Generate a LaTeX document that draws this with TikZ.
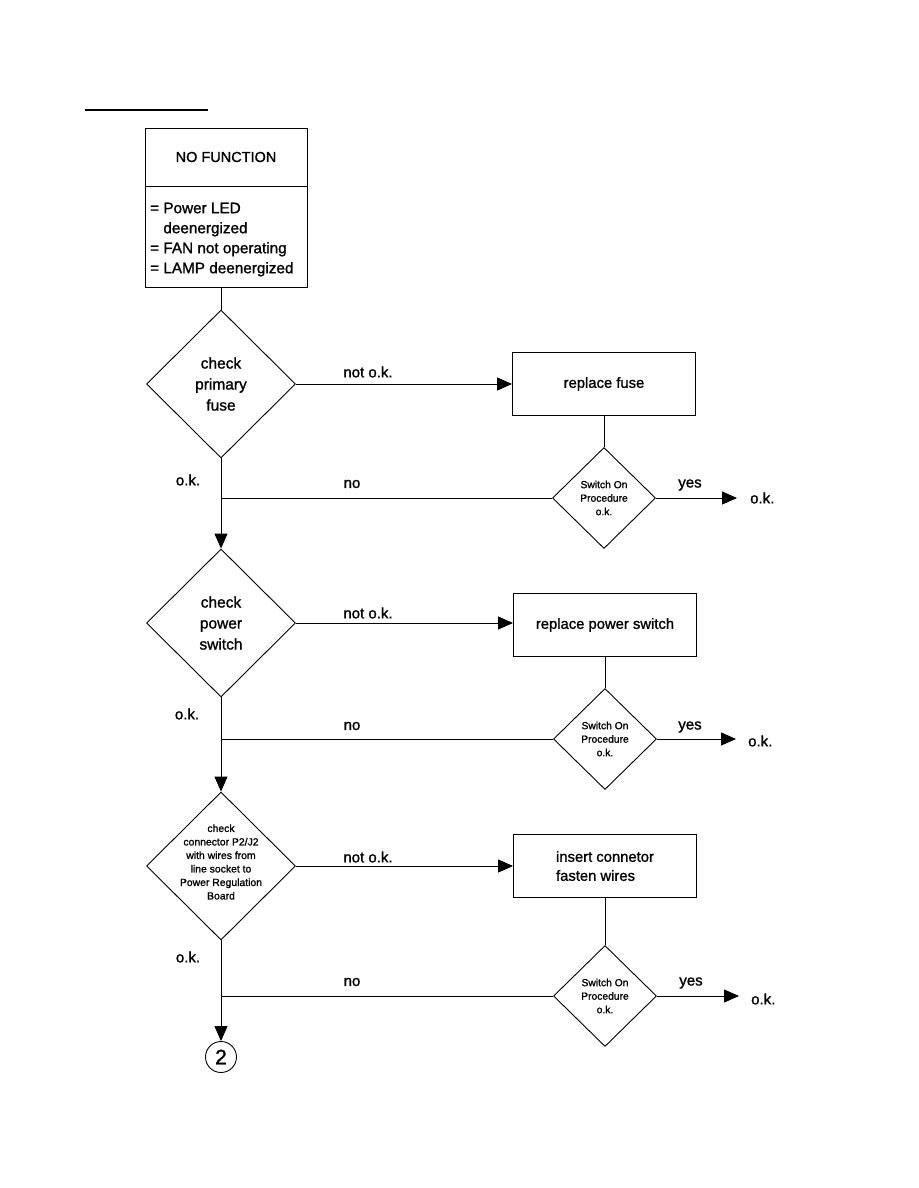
\documentclass[tikz,border=0pt]{standalone}
\usepackage{fontspec}
\setmainfont{Liberation Sans}[FakeBold=1.2]
\usetikzlibrary{shapes.geometric,arrows.meta}
\tikzset{
  base/.style={draw, line width=0.9pt, inner sep=0pt},
  bigdia/.style={base, diamond, minimum width=149pt, minimum height=148pt, align=center, font=\fontsize{15.5}{21}\selectfont},
  smalldia/.style={base, diamond, minimum width=103pt, minimum height=101pt, align=center, font=\fontsize{10.3}{13.5}\selectfont},
  actbox/.style={base, rectangle, minimum width=183pt, minimum height=63pt, font=\fontsize{14.8}{19}\selectfont},
  lbl/.style={inner sep=0pt, font=\fontsize{15}{16}\selectfont},
  conn/.style={line width=0.9pt},
  arr/.style={conn, -{Triangle[length=15pt,width=13pt]}}
}
\begin{document}
\begin{tikzpicture}[x=1pt,y=-1pt]
\useasboundingbox (0,0) rectangle (918,1188);
% heading underline
\coordinate (ul1) at (85,110);
\coordinate (ul2) at (208,110);
\draw[line width=2pt] (ul1) -- (ul2);
% top box
\node[base, minimum width=162pt, minimum height=58pt, font=\fontsize{14.5}{16}\selectfont] (nf) at (226,157) {NO FUNCTION};
\node[base, minimum width=162pt, minimum height=101pt, anchor=north] (sym) at (nf.south) {};
\node[inner sep=0pt, anchor=north west, align=left, font=\fontsize{15.3}{20}\selectfont] (symtxt) at (150,202.5) {= Power LED\\\hphantom{= }deenergized\\= FAN not operating\\= LAMP deenergized};
% diamonds
\node[bigdia] (d1) at (221,384) {check\\primary\\fuse};
\node[bigdia] (d2) at (221,623) {check\\power\\switch};
\node[bigdia] (d3) at (221,866) {};
\node[inner sep=0pt, align=center, font=\fontsize{10.4}{13.5}\selectfont] (d3t) at (221,862) {check\\connector P2/J2\\with wires from\\line socket to\\Power Regulation\\Board};
% action boxes
\node[actbox] (b1) at (604,384) {replace fuse};
\node[actbox] (b2) at (605,625) {replace power switch};
\node[actbox, align=left] (b3) at (605,866) {insert connetor\\fasten wires};
% small diamonds
\node[smalldia] (s1) at (604,498) {Switch On\\Procedure\\o.k.};
\node[smalldia] (s2) at (605,739) {Switch On\\Procedure\\o.k.};
\node[smalldia] (s3) at (605,996) {Switch On\\Procedure\\o.k.};
% result labels
\node[lbl, anchor=west] (ok1) at (750,498) {o.k.};
\node[lbl, anchor=west] (ok2) at (748,741) {o.k.};
\node[lbl, anchor=west] (ok3) at (751,999) {o.k.};
% connector circle
\node[base, circle, minimum size=31pt, font=\fontsize{21}{21}\selectfont] (c2) at (221,1057) {2};
% junctions
\coordinate (j1) at (d1 |- s1.west);
\coordinate (j2) at (d2 |- s2.west);
\coordinate (j3) at (d3 |- s3.west);
% connectors
\draw[conn] (sym.south -| d1) -- (d1.north);
\draw[arr] (d1.south) -- (d2.north);
\draw[arr] (d2.south) -- (d3.north);
\draw[arr] (d3.south) -- (c2.north);
\draw[arr] (d1.east) -- (b1.west);
\draw[arr] (d2.east) -- (d2.east -| b2.west);
\draw[arr] (d3.east) -- (d3.east -| b3.west);
\draw[conn] (b1.south) -- (s1.north);
\draw[conn] (b2.south) -- (s2.north);
\draw[conn] (b3.south) -- (s3.north);
\draw[conn] (s1.west) -- (j1);
\draw[conn] (s2.west) -- (j2);
\draw[conn] (s3.west) -- (j3);
\draw[arr, shorten >=13pt] (s1.east) -- (ok1.west);
\draw[arr, shorten >=12pt] (s2.east) -- (s2.east -| ok2.west);
\draw[arr, shorten >=12pt] (s3.east) -- (s3.east -| ok3.west);
% labels
\node[lbl] (n1) at (368,372) {not o.k.};
\node[lbl] (n2) at (368,613) {not o.k.};
\node[lbl] (n3) at (368,857) {not o.k.};
\node[lbl] (no1) at (352,484) {no};
\node[lbl] (no2) at (352,726) {no};
\node[lbl] (no3) at (352,982) {no};
\node[lbl] (y1) at (690,485) {yes};
\node[lbl] (y2) at (690,727) {yes};
\node[lbl] (y3) at (691,983) {yes};
\node[lbl] (k1) at (188,480) {o.k.};
\node[lbl] (k2) at (187,714) {o.k.};
\node[lbl] (k3) at (188,957) {o.k.};
\end{tikzpicture}
\end{document}
